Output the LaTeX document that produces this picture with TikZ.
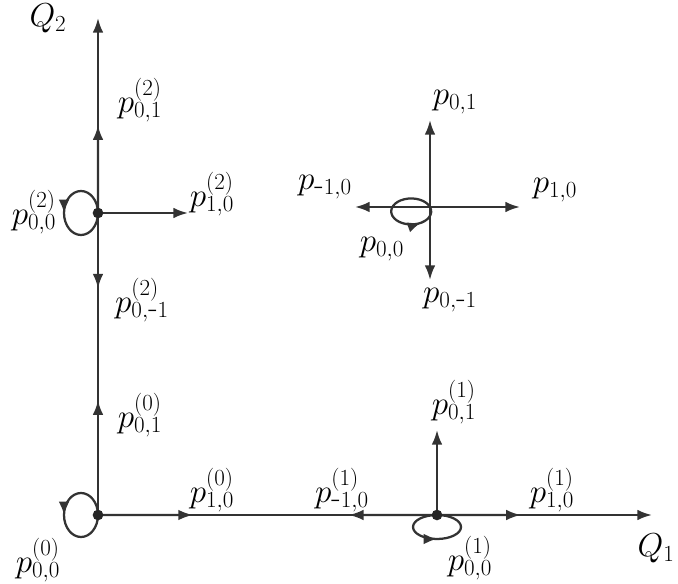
\documentclass[tikz,border=0pt]{standalone}
\usetikzlibrary{arrows.meta,calc,decorations.markings}
\begin{document}
\begin{tikzpicture}[x=0.75pt,y=-0.75pt,
  ln/.style={line width=1.7pt,draw=black!80},
  ar/.style={ln,-{Latex[length=11pt,width=8pt]}},
  lb/.style={font=\fontsize{23}{26}\selectfont,inner sep=0pt},
  dot/.style={circle,fill=black!85,inner sep=0pt,minimum size=8pt},
  midarr/.style={postaction={decorate},decoration={markings,mark=at position #1 with {\arrow{Latex[length=10pt,width=8pt]}}}}]
\useasboundingbox (0,0) rectangle (678,584);
\coordinate (O) at (98,515);
\coordinate (N2) at (98,213);
\coordinate (N1) at (437,515);
\coordinate (C) at (430,207);
\coordinate (top) at (98,18);
\coordinate (right) at (652,515);
% axes
\draw[ar] (O) -- (top);
\draw[ar] (O) -- (right);
\draw[ar] (N2) -- ($(N2)!0.45!(top)$);
\draw[ar] (O) -- ($(O)!0.38!(N2)$);
\draw[ar] (N2) -- ($(N2)!0.25!(O)$);
\draw[ar] (O) -- ($(O)!0.28!(N1)$);
\draw[ar] (N1) -- ($(N1)!0.26!(O)$);
\draw[ar] (N1) -- ($(N1)!0.39!(right)$);
\coordinate (N2r) at (188,213);
\draw[ar] (N2) -- (N2r);
\coordinate (N1u) at (437,430);
\draw[ar] (N1) -- (N1u);
% cluster
\coordinate (Cu) at (430,120);
\coordinate (Cl) at (355,207);
\coordinate (Cr) at (520,207);
\coordinate (Cd) at (430,280);
\draw[ar] (C) -- (Cu);
\draw[ar] (C) -- (Cl);
\draw[ar] (C) -- (Cr);
\draw[ar] (C) -- (Cd);
% loops
\draw[ln,midarr=0.5] (N2) arc[start angle=0,end angle=-360,x radius=17,y radius=22];
\draw[ln,midarr=0.5] (O) arc[start angle=0,end angle=-360,x radius=17,y radius=22];
\draw[ln,midarr=0.5] (N1) arc[start angle=-90,end angle=-450,x radius=24,y radius=12];
\draw[ln,midarr=0.8] (C) arc[start angle=-20,end angle=-380,x radius=20,y radius=13];
\node[dot] (d2) at (N2) {};
\node[dot] (d0) at (O) {};
\node[dot] (d1) at (N1) {};
% labels
\node[lb] (lq2) at (48,18) {$Q_2$};
\node[lb] (lq1) at (656,548) {$Q_1$};
\node[lb] (a1) at (140,100) {$p^{(2)}_{0,1}$};
\node[lb] (a2) at (212,194) {$p^{(2)}_{1,0}$};
\node[lb] (a3) at (34,212) {$p^{(2)}_{0,0}$};
\node[lb] (a4) at (142,300) {$p^{(2)}_{0,\mbox{-}1}$};
\node[lb] (a5) at (140,415) {$p^{(0)}_{0,1}$};
\node[lb] (a6) at (212,490) {$p^{(0)}_{1,0}$};
\node[lb] (a7) at (342,490) {$p^{(1)}_{\mbox{-}1,0}$};
\node[lb] (a8) at (454,402) {$p^{(1)}_{0,1}$};
\node[lb] (a9) at (552,490) {$p^{(1)}_{1,0}$};
\node[lb] (a10) at (38,560) {$p^{(0)}_{0,0}$};
\node[lb] (a11) at (470,558) {$p^{(1)}_{0,0}$};
\node[lb] (b1) at (455,102) {$p_{0,1}$};
\node[lb] (b2) at (325,187) {$p_{\mbox{-}1,0}$};
\node[lb] (b3) at (555,190) {$p_{1,0}$};
\node[lb] (b4) at (382,249) {$p_{0,0}$};
\node[lb] (b5) at (450,300) {$p_{0,\mbox{-}1}$};
\end{tikzpicture}
\end{document}
